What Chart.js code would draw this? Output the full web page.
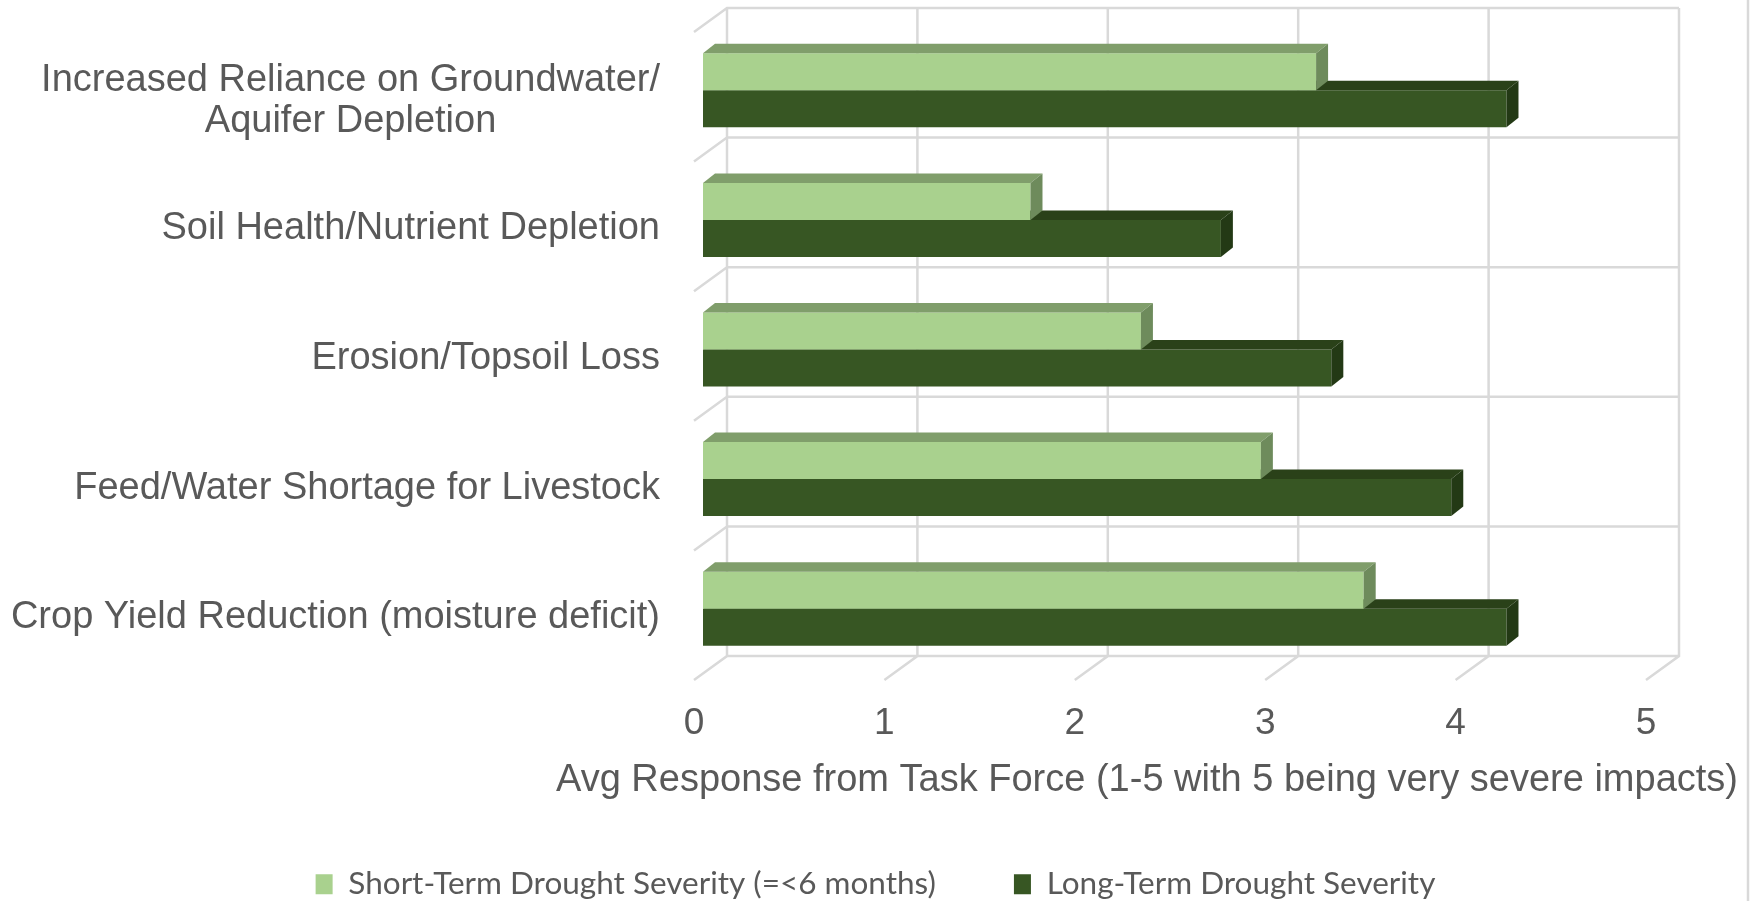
<!DOCTYPE html>
<html>
<head>
<meta charset="utf-8">
<title>Drought impacts</title>
<script src="https://cdn.jsdelivr.net/npm/chart.js@4.4.0/dist/chart.umd.min.js"></script>
<style>
  html, body { margin: 0; padding: 0; background: #fff; }
  #wrap { width: 1751px; height: 901px; position: relative; }
</style>
</head>
<body>
<div id="wrap"><canvas id="chart"></canvas></div>
<script>
const categories = [
    ['Increased Reliance on Groundwater/', 'Aquifer Depletion'],
    'Soil Health/Nutrient Depletion',
    'Erosion/Topsoil Loss',
    'Feed/Water Shortage for Livestock',
    'Crop Yield Reduction (moisture deficit)'
];
const shortTerm = [3.22, 1.72, 2.3, 2.93, 3.47];
const longTerm = [4.22, 2.72, 3.3, 3.93, 4.22];
const xTicks = [0, 1, 2, 3, 4, 5];
const seriesNames = ['Short-Term Drought Severity (=<6 months)', 'Long-Term Drought Severity'];
const axisTitle = 'Avg Response from Task Force (1-5 with 5 being very severe impacts)';

// faux 3d offsets, relative to the plane of the bar fronts
const WALL = { dx: 24, dy: -17.5 };
const FLOOR = { dx: -9, dy: 6.5 };
const DEPTH = { dx: 12, dy: -9.5 };
const PLOT_LEFT = 703;
const PLOT_RIGHT_GAP = 96;
const PLOT_BOTTOM = 673.5;
const PAD_BOTTOM = -9;

const GRID = '#D9D9D9';
const TEXT = '#595959';
const faces = [
    { front: '#A9D18E', top: '#809E6B', side: '#6E8B5C' },
    { front: '#375623', top: '#2A4119', side: '#233915' }
];
const labelFont = '38px "Liberation Sans", Arial, sans-serif';

const box3d = {
    id: 'box3d',
    beforeDatasetsDraw(chart) {
        const { ctx, chartArea } = chart;
        const x = chart.scales.x, y = chart.scales.y;
        const band = y.getPixelForValue(1) - y.getPixelForValue(0);
        const x0 = x.getPixelForValue(xTicks[0]);
        const x1 = x.getPixelForValue(xTicks[xTicks.length - 1]);
        ctx.save();
        ctx.strokeStyle = GRID;
        ctx.lineWidth = 2.5;
        ctx.beginPath();
        // back wall verticals + floor diagonals
        xTicks.forEach(v => {
            const px = x.getPixelForValue(v);
            ctx.moveTo(px + WALL.dx, chartArea.top + WALL.dy);
            ctx.lineTo(px + WALL.dx, chartArea.bottom + WALL.dy);
            ctx.lineTo(px + FLOOR.dx, chartArea.bottom + FLOOR.dy);
        });
        // back wall horizontals + side wall diagonals
        for (let i = 0; i <= categories.length; i++) {
            const yb = y.getPixelForValue(i) - band / 2;
            ctx.moveTo(x1 + WALL.dx, yb + WALL.dy);
            ctx.lineTo(x0 + WALL.dx, yb + WALL.dy);
            ctx.lineTo(x0 + FLOOR.dx, yb + FLOOR.dy);
        }
        ctx.stroke();
        ctx.restore();
    },
    afterDatasetDraw(chart, args) {
        const { ctx } = chart;
        const c = faces[args.index];
        ctx.save();
        args.meta.data.forEach(bar => {
            const top = bar.y - bar.height / 2;
            const bottom = bar.y + bar.height / 2;
            ctx.fillStyle = c.top;
            ctx.beginPath();
            ctx.moveTo(bar.base, top);
            ctx.lineTo(bar.x, top);
            ctx.lineTo(bar.x + DEPTH.dx, top + DEPTH.dy);
            ctx.lineTo(bar.base + DEPTH.dx, top + DEPTH.dy);
            ctx.closePath();
            ctx.fill();
            ctx.fillStyle = c.side;
            ctx.beginPath();
            ctx.moveTo(bar.x, top);
            ctx.lineTo(bar.x + DEPTH.dx, top + DEPTH.dy);
            ctx.lineTo(bar.x + DEPTH.dx, bottom + DEPTH.dy);
            ctx.lineTo(bar.x, bottom);
            ctx.closePath();
            ctx.fill();
        });
        ctx.restore();
    },
    afterDraw(chart) {
        const { ctx } = chart;
        const x = chart.scales.x, y = chart.scales.y;
        ctx.save();
        ctx.font = labelFont;
        ctx.fillStyle = TEXT;
        ctx.textBaseline = 'middle';
        ctx.textAlign = 'center';
        // category labels, right edge a little left of the floor corner
        const right = x.getPixelForValue(0) - 43;
        categories.forEach((label, i) => {
            const lines = Array.isArray(label) ? label : [label];
            const w = Math.max(...lines.map(l => ctx.measureText(l).width));
            const cx = right - w / 2;
            const cy = y.getPixelForValue(i) + FLOOR.dy + 2.5;
            lines.forEach((l, j) => {
                ctx.fillText(l, cx, cy + (j - (lines.length - 1) / 2) * 41 + (lines.length - 1) * 2);
            });
        });
        // axis title
        ctx.fillText(axisTitle, 1147, 781);
        // outer frame edge
        ctx.strokeStyle = GRID;
        ctx.lineWidth = 2.5;
        ctx.beginPath();
        ctx.moveTo(1748, 0);
        ctx.lineTo(1748, chart.height);
        ctx.stroke();
        ctx.restore();
    }
};

new Chart(document.getElementById('chart'), {
    type: 'bar',
    data: {
        labels: categories,
        datasets: [
            { label: seriesNames[0], data: shortTerm, backgroundColor: faces[0].front },
            { label: seriesNames[1], data: longTerm, backgroundColor: faces[1].front }
        ]
    },
    options: {
        indexAxis: 'y',
        responsive: true,
        maintainAspectRatio: false,
        animation: false,
        layout: { padding: { left: 0, right: 0, top: 25.5, bottom: PAD_BOTTOM } },
        datasets: { bar: { categoryPercentage: 0.571, barPercentage: 1.0, borderWidth: 0 } },
        scales: {
            x: {
                min: 0,
                max: 5,
                grid: { display: false, drawTicks: false },
                border: { display: false },
                ticks: {
                    stepSize: 1,
                    labelOffset: FLOOR.dx,
                    padding: 28,
                    color: TEXT,
                    font: { family: '"Liberation Sans", Arial, sans-serif', size: 37 }
                },
                afterFit(scale) {
                    const lg = scale.chart.legend ? scale.chart.legend.height : 0;
                    scale.height = 901 - PAD_BOTTOM - lg - PLOT_BOTTOM;
                }
            },
            y: {
                display: true,
                grid: { display: false, drawTicks: false },
                border: { display: false },
                ticks: { display: false },
                afterFit(scale) { scale.width = PLOT_LEFT; }
            },
            yRight: {
                type: 'linear',
                position: 'right',
                display: true,
                grid: { display: false, drawTicks: false },
                border: { display: false },
                ticks: { display: false },
                afterFit(scale) { scale.width = PLOT_RIGHT_GAP; }
            }
        },
        plugins: {
            legend: {
                position: 'bottom',
                labels: {
                    boxWidth: 17,
                    boxHeight: 20,
                    padding: 78,
                    color: TEXT,
                    font: { family: 'Lato, "Open Sans", sans-serif', size: 31.5 }
                }
            },
            tooltip: { enabled: false }
        }
    },
    plugins: [box3d]
});
</script>
</body>
</html>
